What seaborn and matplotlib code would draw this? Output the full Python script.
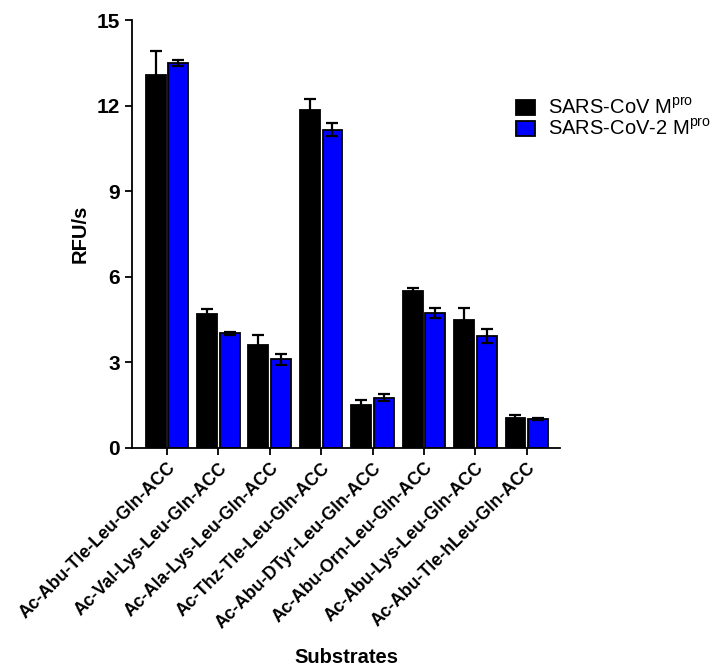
import matplotlib
matplotlib.use("Agg")
import matplotlib.pyplot as plt
import seaborn as sns
import pandas as pd
import numpy as np

substrates = ['Ac-Abu-Tle-Leu-Gln-ACC', 'Ac-Val-Lys-Leu-Gln-ACC', 'Ac-Ala-Lys-Leu-Gln-ACC',
              'Ac-Thz-Tle-Leu-Gln-ACC', 'Ac-Abu-DTyr-Leu-Gln-ACC', 'Ac-Abu-Orn-Leu-Gln-ACC',
              'Ac-Abu-Lys-Leu-Gln-ACC', 'Ac-Abu-Tle-hLeu-Gln-ACC']
enzymes = ['SARS-CoV M$^{\\mathrm{pro}}$', 'SARS-CoV-2 M$^{\\mathrm{pro}}$']
cov1_mean = [13.07, 4.69, 3.60, 11.85, 1.49, 5.51, 4.48, 1.02]
cov1_err = [0.86, 0.16, 0.35, 0.38, 0.18, 0.08, 0.42, 0.13]
cov2_mean = [13.50, 4.01, 3.10, 11.15, 1.75, 4.71, 3.92, 1.00]
cov2_err = [0.10, 0.05, 0.19, 0.23, 0.13, 0.18, 0.25, 0.04]

sns.set_style('ticks')
plt.rcParams['font.family'] = ['Liberation Sans', 'DejaVu Sans']
plt.rcParams['mathtext.fontset'] = 'custom'
plt.rcParams['mathtext.rm'] = 'Liberation Sans'
plt.rcParams['text.color'] = 'black'
plt.rcParams['axes.labelcolor'] = 'black'
plt.rcParams['xtick.color'] = 'black'
plt.rcParams['ytick.color'] = 'black'
plt.rcParams['axes.edgecolor'] = 'black'

df = pd.DataFrame({
    'substrate': substrates * 2,
    'enzyme': [enzymes[0]] * 8 + [enzymes[1]] * 8,
    'rate': cov1_mean + cov2_mean,
})
errs = cov1_err + cov2_err

fig = plt.figure(figsize=(7.21, 6.68), dpi=100)
ax = fig.add_axes([0.183, 0.330, 0.594, 0.640])

sns.barplot(data=df, x='substrate', y='rate', hue='enzyme', order=substrates,
            hue_order=enzymes, palette=['#000000', '#0000FF'], saturation=1,
            width=0.88, gap=0.12, edgecolor='black', linewidth=1.3, errorbar=None, ax=ax)

# error bars on top of each bar (patches come hue by hue)
for p, e in zip(ax.patches[:16], errs):
    xc = p.get_x() + p.get_width() / 2
    ax.errorbar(xc, p.get_height(), yerr=e, fmt='none', ecolor='black',
                elinewidth=1.6, capsize=4.5, capthick=1.6, zorder=5)

ax.set_ylim(0, 15)
ax.set_yticks([0, 3, 6, 9, 12, 15])
ax.set_xlim(-0.68, 7.65)
ax.set_xticks(range(len(substrates)))
ax.set_xticklabels(substrates, rotation=45, ha='right', rotation_mode='anchor',
                   fontsize=12.8, fontweight='bold')
for lab in ax.get_yticklabels():
    lab.set_fontsize(15)
    lab.set_fontweight('bold')
ax.tick_params(axis='both', width=1.3, length=5, direction='out')
ax.set_ylabel('RFU/s', fontsize=14.5, fontweight='bold', va='center')
ax.set_xlabel('Substrates', fontsize=14.5, fontweight='bold', va='center')
ax.yaxis.set_label_coords(-0.121, 0.5)
ax.xaxis.set_label_coords(0.5, -0.49)
sns.despine(ax=ax)
ax.spines['left'].set_linewidth(1.3)
ax.spines['bottom'].set_linewidth(1.3)

ax.legend(loc='upper left', bbox_to_anchor=(0.704, 0.865), bbox_transform=fig.transFigure,
          frameon=False, fontsize=14.5, handlelength=0.95, handleheight=0.75,
          handletextpad=0.65, labelspacing=0.05, borderaxespad=0)

fig.savefig('out.png', dpi=100)
